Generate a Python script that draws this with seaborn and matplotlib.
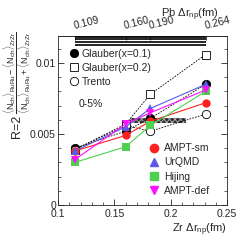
import numpy as np
import pandas as pd
import seaborn as sns
import matplotlib.pyplot as plt
from matplotlib.lines import Line2D
from matplotlib.ticker import MultipleLocator, FixedLocator

sns.set_theme(style="ticks")
plt.rcParams['font.family'] = ['Liberation Sans', 'DejaVu Sans']
plt.rcParams['mathtext.fontset'] = 'custom'
plt.rcParams['mathtext.rm'] = 'Liberation Sans'
plt.rcParams['mathtext.it'] = 'Liberation Sans'
plt.rcParams['hatch.linewidth'] = 0.6

# dados
zr_drnp = [0.115, 0.160, 0.182, 0.231]
pb_drnp = ["0.109", "0.160", "0.190", "0.264"]

glauber01 = [0.0040, 0.0052, 0.0061, 0.0085]
glauber02 = [0.0039, 0.0057, 0.0078, 0.0106]
trento = [0.0039, 0.0056, 0.0052, 0.0064]
ampt_sm = [0.0038, 0.0049, 0.0059, 0.0072]
urqmd = [0.0038, 0.0055, 0.0068, 0.0085]
hijing = [0.0030, 0.0041, 0.0056, 0.0080]
ampt_def = [0.0032, 0.0057, 0.0065, 0.0081]

band_x = [0.1635, 0.2138]
band_lo = [0.0058, 0.0058]
band_hi = [0.00615, 0.00615]

fig = plt.figure(figsize=(2.52, 2.42), dpi=100)
ax = fig.add_axes([0.230, 0.153, 0.671, 0.698])

# banda medida (hachurada)
ax.fill_between(band_x, band_lo, band_hi, facecolor="#303030", edgecolor="#b0b0b0",
                hatch="xxxxxx", linewidth=0, zorder=3)

# modelos Glauber / Trento (pretos, tracejado)
pretos = [
    (glauber01, "o", "black", "Glauber(x=0.1)"),
    (glauber02, "s", "white", "Glauber(x=0.2)"),
    (trento, "o", "white", "Trento"),
]
for vals, mk, fc, nome in pretos:
    sns.lineplot(x=zr_drnp, y=vals, ax=ax, color="black", lw=0.6, linestyle=(0, (2, 1.5)),
                 marker=mk, markersize=6, markerfacecolor=fc,
                 markeredgecolor="black", markeredgewidth=0.6, zorder=4)

coloridos = [
    (ampt_sm, "o", "#ff2020", "AMPT-sm"),
    (urqmd, "^", "#5a5ae6", "UrQMD"),
    (hijing, "s", "#4fd04f", "Hijing"),
    (ampt_def, "v", "#ff10ff", "AMPT-def"),
]
for vals, mk, cor, nome in coloridos:
    sns.lineplot(x=zr_drnp, y=vals, ax=ax, color=cor, lw=0.8,
                 marker=mk, markersize=6, markeredgecolor=cor, markeredgewidth=0, zorder=5)

ax.set_xlim(0.1, 0.25)
ax.set_ylim(0, 0.0119)
ax.xaxis.set_major_locator(FixedLocator([0.1, 0.15, 0.2, 0.25]))
ax.xaxis.set_minor_locator(MultipleLocator(0.01))
ax.set_xticklabels(["0.1", "0.15", "0.2", "0.25"])
ax.yaxis.set_major_locator(FixedLocator([0, 0.005, 0.01]))
ax.yaxis.set_minor_locator(MultipleLocator(0.001))
ax.set_yticklabels(["0", "0.005", "0.01"])
ax.tick_params(which="both", direction="in", right=True, labelsize=7.5, pad=1.5)
ax.tick_params(axis="x", pad=3)
ax.tick_params(which="major", length=4, width=0.6)
ax.tick_params(which="minor", length=2, width=0.5)
ax.tick_params(axis="x", which="both", top=False)
for s in ax.spines.values():
    s.set_linewidth(0.6)

# eixo de cima (Pb)
trans = ax.get_xaxis_transform()
for yy in [0.995, 0.98, 0.965, 0.95]:
    ax.plot([zr_drnp[0], zr_drnp[-1]], [yy, yy], color="black", lw=1.2,
            transform=trans, clip_on=False, zorder=6, solid_capstyle="butt")
ax2 = ax.secondary_xaxis("top")
ax2.set_xticks(zr_drnp)
ax2.set_xticklabels(pb_drnp, rotation=14, fontsize=7.5, ha="left", rotation_mode="anchor")
ax2.tick_params(direction="in", length=3, width=0.6, pad=4)
ax2.spines["top"].set_linewidth(0.6)
fig.text(0.869, 0.938, r"Pb $\Delta r_{np}$(fm)", ha="right", va="center", fontsize=8)

ax.set_xlabel(r"Zr $\Delta r_{np}$(fm)", fontsize=8, loc="right", labelpad=2)
ax.set_ylabel("")
# titulo do eixo y em duas partes (R=2 maior, fracao)
fig.text(0.068, 0.476, "R=2", rotation=90, ha="center", va="center", fontsize=9)
fig.text(0.068, 0.702, r"$\dfrac{\langle N_{ch}\rangle_{RuRu}-\langle N_{ch}\rangle_{ZrZr}}"
         r"{\langle N_{ch}\rangle_{RuRu}+\langle N_{ch}\rangle_{ZrZr}}$",
         rotation=90, ha="center", va="center", fontsize=6.5)

# legendas
h1 = [Line2D([], [], ls="none", marker=mk, markersize=6, markerfacecolor=fc,
             markeredgecolor="black", markeredgewidth=0.6, label=nome)
      for vals, mk, fc, nome in pretos]
leg1 = ax.legend(handles=h1, loc="upper left", bbox_to_anchor=(0.078, 0.925), frameon=False,
                 fontsize=7.5, handlelength=0.6, handletextpad=0.4, labelspacing=0.4,
                 borderpad=0, borderaxespad=0)
ax.add_artist(leg1)
h2 = [Line2D([], [], ls="none", marker=mk, markersize=6, color=cor, label=nome)
      for vals, mk, cor, nome in coloridos]
ax.legend(handles=h2, loc="upper left", bbox_to_anchor=(0.552, 0.365), frameon=False,
          fontsize=7.5, handlelength=0.6, handletextpad=0.6, labelspacing=0.4,
          borderpad=0, borderaxespad=0)

ax.text(0.12, 0.60, "0-5%", transform=ax.transAxes, fontsize=7.5, va="center")

fig.savefig("out.png", dpi=100)
